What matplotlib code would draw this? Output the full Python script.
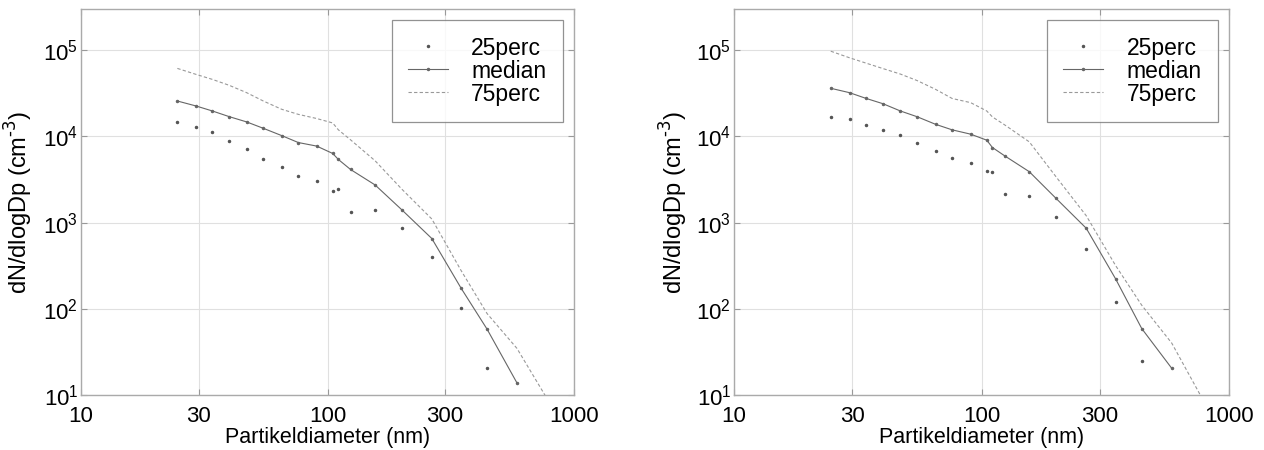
import numpy as np
import matplotlib
matplotlib.use("Agg")
import matplotlib.pyplot as plt
from matplotlib.ticker import FixedLocator, FixedFormatter, NullLocator

plt.rcParams['font.family'] = ['Liberation Sans', 'DejaVu Sans']

# particle diameters (nm), shared by all series
dp = [24.6, 29.3, 34.1, 40.0, 47.0, 54.9, 65.2, 76.1, 90.4, 105, 110.7, 124,
      156, 200, 265, 348, 444, 587]
dp75 = dp + [770]

# left panel
p25_a = [14500, 12900, 11100, 8870, 7110, 5450, 4360, 3430, 3060, 2340, 2470,
         1340, 1400, 869, 397, 102, 20.8]
med_a = [25700, 22500, 19700, 16900, 14700, 12400, 10200, 8480, 7710, 6330,
         5390, 4130, 2730, 1410, 653, 174, 58, 13.8]
p75_a = [61400, 52300, 45800, 39000, 32100, 25700, 20600, 18000, 16100, 14300,
         11900, 9120, 5210, 2450, 1100, 279, 88, 34.7, 9.5]

# right panel
p25_b = [16900, 15800, 13600, 11900, 10300, 8340, 6790, 5540, 4850, 3990, 3820,
         2160, 2010, 1150, 497, 120, 24.9]
med_b = [36100, 32100, 27600, 23900, 19700, 16900, 13800, 11900, 10600, 9030,
         7420, 5950, 3890, 1910, 859, 223, 59, 20.4]
p75_b = [97200, 81500, 70800, 61100, 52800, 44400, 35100, 27500, 24600, 19700,
         16800, 13600, 8630, 3400, 1200, 318, 110, 40, 9.7]

xticks = [10, 30, 100, 300, 1000]
xlabels = ['10', '30', '100', '300', '1000']


def panel(ax, p25, med, p75, ylab_x):
    ax.plot(dp[:len(p25)], p25, linestyle='none', marker='.', markersize=3,
            color='#555555', label='25perc')
    ax.plot(dp, med, '-', marker='.', markersize=3, color='#666666',
            linewidth=0.8, label='median')
    ax.plot(dp75, p75, '--', color='#999999', linewidth=0.8,
            dashes=(3, 2), label='75perc')
    ax.set_xscale('log')
    ax.set_yscale('log')
    ax.set_xlim(10, 1000)
    ax.set_ylim(10, 3e5)
    ax.xaxis.set_major_locator(FixedLocator(xticks))
    ax.xaxis.set_major_formatter(FixedFormatter(xlabels))
    ax.xaxis.set_minor_locator(NullLocator())
    ax.yaxis.set_major_locator(FixedLocator([1e1, 1e2, 1e3, 1e4, 1e5]))
    ax.yaxis.set_minor_locator(NullLocator())
    ax.grid(True, color='#e0e0e0', linewidth=0.8)
    ax.tick_params(direction='in', length=4, top=True, right=True,
                   labelsize=16, color='#999999')
    ax.tick_params(axis='x', pad=8)
    ax.tick_params(axis='y', pad=2)
    for s in ax.spines.values():
        s.set_color('#aaaaaa')
        s.set_linewidth(1.0)
    ax.set_xlabel('Partikeldiameter (nm)', fontsize=15.5)
    ax.xaxis.set_label_coords(0.5, -0.082)
    ax.set_ylabel('dN/dlogDp (cm$^{\\text{-3}}$)', fontsize=17)
    ax.yaxis.set_label_coords(ylab_x, 0.5)
    leg = ax.legend(loc='upper right', fontsize=16.5, frameon=True, fancybox=False,
                    handlelength=1.75, borderaxespad=0.5, labelspacing=0.0,
                    handletextpad=1.0, borderpad=0.7)
    leg.get_frame().set_edgecolor('#777777')
    leg.get_frame().set_linewidth(0.9)


fig = plt.figure(figsize=(12.64, 4.5), dpi=100)
ax1 = fig.add_axes([81 / 1264, 55 / 450, 493 / 1264, 386 / 450])
ax2 = fig.add_axes([734 / 1264, 55 / 450, 495 / 1264, 386 / 450])
panel(ax1, p25_a, med_a, p75_a, -0.093)
panel(ax2, p25_b, med_b, p75_b, -0.089)

fig.savefig('out.png', dpi=100)
